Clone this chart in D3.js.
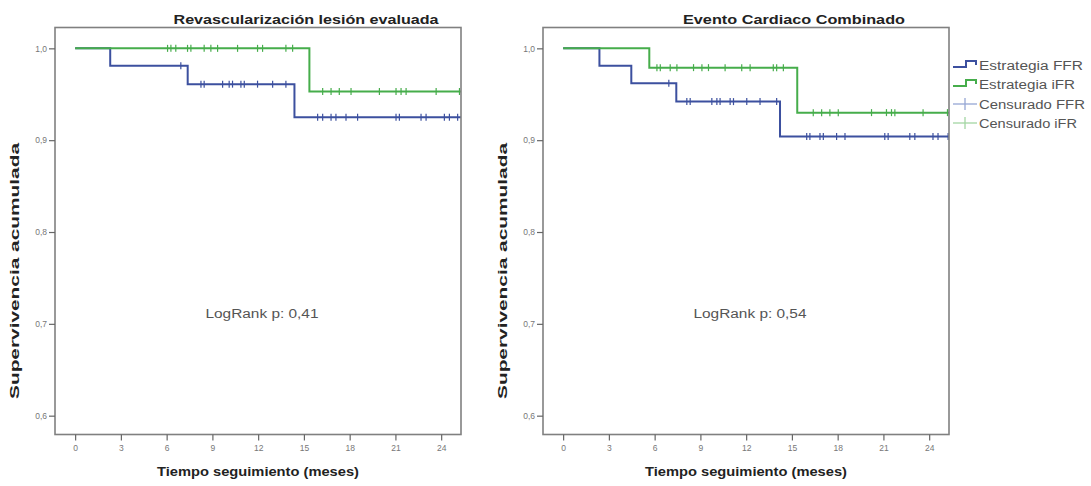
<!DOCTYPE html>
<html>
<head>
<meta charset="utf-8">
<script src="https://cdn.jsdelivr.net/npm/d3@7"></script>
<style>
  body { margin: 0; background: #fff; }
  text { font-family: "Liberation Sans", Arial, sans-serif; }
</style>
</head>
<body>
<script>
// tick labels
var timeTicks = [0, 3, 6, 9, 12, 15, 18, 21, 24];
var survTicks = [0.6, 0.7, 0.8, 0.9, 1.0];
var followUpEnd = 25.3;

// Revascularización lesión evaluada
var revascFfrEvents = [2.3, 7.38, 14.38];
var revascFfrSurv = [1, 0.981, 0.961, 0.925];
var revascFfrCensored = [6.93, 8.25, 8.46, 9.67, 10.1, 10.32, 10.87, 11.09, 11.96, 12.95, 13.82,
  15.9, 16.23, 16.78, 17.1, 17.76, 18.52, 21.04, 21.26, 22.68, 23.01, 24.21, 24.54, 25.08];
var revascIfrEvents = [15.36];
var revascIfrSurv = [1, 0.953];
var revascIfrCensored = [6.06, 6.28, 6.6, 7.37, 7.59, 8.46, 8.9, 9.34, 10.65, 11.96, 12.29, 13.82, 14.26,
  16.23, 16.78, 17.32, 18.09, 19.95, 21.04, 21.37, 21.7, 23.67, 25.2];

// Evento Cardiaco Combinado
var combFfrEvents = [2.38, 4.47, 7.42, 14.22];
var combFfrSurv = [1, 0.981, 0.962, 0.942, 0.904];
var combFfrCensored = [6.93, 8.11, 8.33, 9.75, 10.08, 10.29, 10.95, 11.17, 12.04, 12.91, 14.0,
  15.97, 16.18, 16.84, 17.06, 17.93, 18.48, 21.09, 21.31, 22.73, 23.06, 24.25, 24.58, 25.24];
var combIfrEvents = [5.65, 15.35];
var combIfrSurv = [1, 0.979, 0.930];
var combIfrCensored = [6.15, 6.37, 7.02, 7.46, 8.55, 9.1, 9.53, 10.62, 11.71, 12.26, 13.78, 14.0, 14.44,
  16.4, 16.95, 17.49, 18.04, 20.22, 21.2, 21.53, 21.75, 23.6, 25.2];

var legendLabels = ["Estrategia FFR", "Estrategia iFR", "Censurado FFR", "Censurado iFR"];

var blue = "#3c509f", green = "#46ad4b";
var blueLight = "#95a6d4", greenLight = "#a3d6a3";
var textGray = "#555";

var W = 1091, H = 486;
var pw = 406, ph = 407, plotTop = 27.5;

var svg = d3.select("body").append("svg")
  .attr("width", W)
  .attr("height", H);

function label(g, str, x, y, size, len, bold, anchor, rot) {
  var t = g.append("text")
    .attr("transform", "translate(" + x + "," + y + ")" + (rot ? " rotate(" + rot + ")" : ""))
    .attr("text-anchor", anchor || "middle")
    .attr("font-size", size)
    .attr("fill", bold ? "#222" : textGray)
    .attr("font-weight", bold ? "bold" : "normal")
    .text(str);
  if (len) t.attr("textLength", len).attr("lengthAdjust", "spacingAndGlyphs");
  return t;
}

function stepAt(events, surv, t) {
  var s = surv[0];
  events.forEach(function(e, i) { if (t >= e) s = surv[i + 1]; });
  return s;
}

function drawPanel(left, title, titleX, logrank, curves) {
  var x = d3.scaleLinear().domain([-1.32, 25.3]).range([left, left + pw]);
  var y = d3.scaleLinear().domain([0.5795, 1.0227]).range([plotTop + ph, plotTop]);
  var g = svg.append("g");

  // curves
  var line = d3.line().x(function(d) { return x(d[0]); }).y(function(d) { return y(d[1]); })
    .curve(d3.curveStepAfter);
  curves.forEach(function(c) {
    var pts = [[0, c.surv[0]]];
    c.events.forEach(function(e, i) { pts.push([e, c.surv[i + 1]]); });
    pts.push([followUpEnd, c.surv[c.surv.length - 1]]);
    g.append("path")
      .attr("d", line(pts))
      .attr("fill", "none")
      .attr("stroke", c.color)
      .attr("stroke-width", 2);
    g.selectAll(null)
      .data(c.censored)
      .enter().append("line")
      .attr("x1", function(d) { return x(d); })
      .attr("x2", function(d) { return x(d); })
      .attr("y1", function(d) { return y(stepAt(c.events, c.surv, d)) - 3.5; })
      .attr("y2", function(d) { return y(stepAt(c.events, c.surv, d)) + 3.5; })
      .attr("stroke", c.color)
      .attr("stroke-width", 1.2);
  });

  // frame
  g.append("rect")
    .attr("x", left).attr("y", plotTop)
    .attr("width", pw).attr("height", ph)
    .attr("fill", "none")
    .attr("stroke", "#808080")
    .attr("stroke-width", 1.6);

  var xAxis = g.append("g")
    .attr("transform", "translate(0," + (plotTop + ph) + ")")
    .call(d3.axisBottom(x).tickValues(timeTicks).tickSize(6).tickPadding(4));
  var yAxis = g.append("g")
    .attr("transform", "translate(" + left + ",0)")
    .call(d3.axisLeft(y).tickValues(survTicks).tickSize(6).tickPadding(2)
      .tickFormat(function(d) { return d.toFixed(1).replace(".", ","); }));
  [xAxis, yAxis].forEach(function(a) {
    a.select(".domain").remove();
    a.selectAll(".tick line").attr("stroke", "#666").attr("stroke-width", 1.2);
    a.selectAll(".tick text").attr("fill", "#777").attr("font-size", 8.5)
      .attr("font-family", "Liberation Sans, Arial, sans-serif");
  });

  label(g, title.text, titleX, 24, 13, title.len, true);
  label(g, "Tiempo seguimiento (meses)", left + pw / 2, 476, 13, 202, true);
  label(g, "Supervivencia acumulada", left - 36, 271, 13, 256, true, "middle", -90);
  label(g, logrank, left + pw / 2 + 4, 318, 12, 113, false);
}

drawPanel(55, { text: "Revascularización lesión evaluada", len: 265 }, 306, "LogRank p: 0,41", [
  { events: revascFfrEvents, surv: revascFfrSurv, censored: revascFfrCensored, color: blue },
  { events: revascIfrEvents, surv: revascIfrSurv, censored: revascIfrCensored, color: green }
]);
drawPanel(543, { text: "Evento Cardiaco Combinado", len: 222 }, 794, "LogRank p: 0,54", [
  { events: combFfrEvents, surv: combFfrSurv, censored: combFfrCensored, color: blue },
  { events: combIfrEvents, surv: combIfrSurv, censored: combIfrCensored, color: green }
]);

// legend
var legend = svg.append("g").attr("transform", "translate(953,0)");
var legendY = [65, 84, 104, 123];
var legendLen = [104, 96, 106, 98];
legendLabels.forEach(function(lab, i) {
  var yy = legendY[i];
  if (i < 2) {
    legend.append("path")
      .attr("d", "M0," + (yy + 2) + "H13V" + (yy - 4) + "H23V" + (yy))
      .attr("fill", "none")
      .attr("stroke", i === 0 ? blue : green)
      .attr("stroke-width", 2);
  } else {
    var c = i === 2 ? blueLight : greenLight;
    legend.append("line").attr("x1", 0).attr("x2", 24).attr("y1", yy).attr("y2", yy)
      .attr("stroke", c).attr("stroke-width", 1.3);
    legend.append("line").attr("x1", 12).attr("x2", 12).attr("y1", yy - 6).attr("y2", yy + 6)
      .attr("stroke", c).attr("stroke-width", 1.3);
  }
  label(legend, lab, 26, yy + 4.5, 12.5, legendLen[i], false, "start");
});
</script>
</body>
</html>
